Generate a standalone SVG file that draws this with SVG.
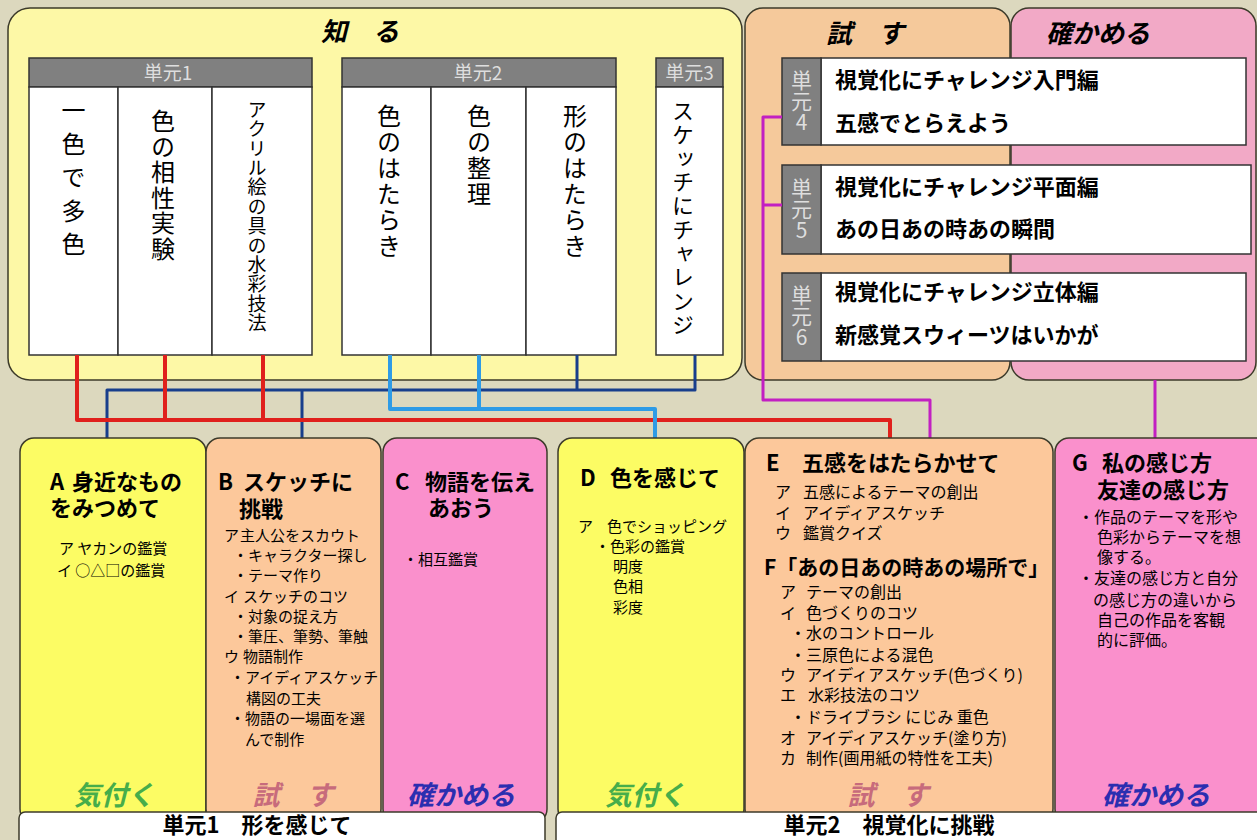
<svg xmlns="http://www.w3.org/2000/svg" width="1257" height="840" viewBox="0 0 1257 840">
<style>
text{font-family:"Noto Sans CJK JP","Noto Sans",sans-serif;fill:#000}
.box{stroke:#3c3a2a;stroke-width:1.5}
.col{fill:#fff;stroke:#333;stroke-width:1.5}
.hdr{fill:#808080;stroke:#333;stroke-width:1.5}
.hdt{fill:#dedede;font-size:19px;text-anchor:middle}
.v{writing-mode:vertical-rl;font-size:24px}
.vl{writing-mode:vertical-rl;text-orientation:upright;font-size:21px;fill:#dedede}
.ttl{font-size:26px;font-weight:bold;font-style:italic;text-anchor:middle}
.row{fill:#fff;stroke:#333;stroke-width:1.5}
.rt{font-size:22px;font-weight:bold}
.h{font-size:22px;font-weight:bold}
.s{font-size:15px}
.m{font-size:16px}
.f{font-size:21px;font-weight:bold}
.st{font-size:27px;font-weight:bold;font-style:italic;text-anchor:middle}
.g1{fill:#46ad4a}.g2{fill:#c76b7c}.g3{fill:#2b2eb0}
.bar{fill:#fff;stroke:#3c3a2a;stroke-width:1.5}
.bt{font-size:22px;font-weight:bold;text-anchor:middle}
.c{fill:none;stroke-linejoin:round}
</style>
<rect width="1257" height="840" fill="#dcd8be"/>

<g id="shiru">
<rect class="box" x="8" y="8" width="734" height="372" rx="22" fill="#fdf8a6"/>
<text class="ttl" x="360" y="41">知　る</text>
</g>
<g id="unit1-header"><rect class="hdr" x="29" y="58" width="283" height="29"/><text class="hdt" x="168" y="80">単元1</text></g>
<g id="unit2-header"><rect class="hdr" x="342" y="58" width="274" height="29"/><text class="hdt" x="478" y="80">単元2</text></g>
<g id="unit3-header"><rect class="hdr" x="656" y="58" width="67" height="29"/><text class="hdt" x="689.5" y="80">単元3</text></g>
<g id="col-isshoku"><rect class="col" x="29" y="87" width="89" height="268"/><text class="v" x="73.5" y="98" style="letter-spacing:9.5px">一色で多色</text></g>
<g id="col-aisho"><rect class="col" x="118" y="87" width="94" height="268"/><text class="v" x="163" y="109" style="letter-spacing:1.5px">色の相性実験</text></g>
<g id="col-acrylic"><rect class="col" x="212" y="87" width="100" height="268"/><text class="v" x="257" y="100" style="font-size:19px;letter-spacing:0.4px">アクリル絵の具の水彩技法</text></g>
<g id="col-ironohataraki"><rect class="col" x="342" y="87" width="89" height="268"/><text class="v" x="389" y="104" style="letter-spacing:2px">色のはたらき</text></g>
<g id="col-seiri"><rect class="col" x="431" y="87" width="95" height="268"/><text class="v" x="479" y="104" style="letter-spacing:2px">色の整理</text></g>
<g id="col-katachi"><rect class="col" x="526" y="87" width="90" height="268"/><text class="v" x="575" y="104" style="letter-spacing:2px">形のはたらき</text></g>
<g id="col-sketch"><rect class="col" x="656" y="87" width="67" height="268"/><text class="v" x="683" y="100" style="font-size:22px;letter-spacing:1.7px">スケッチにチャレンジ</text></g>

<g id="tashikameru-top">
<rect class="box" x="1011" y="8" width="245" height="372" rx="18" fill="#f2a9c6"/>
<text class="ttl" x="1098" y="43">確かめる</text>
</g>
<g id="tamesu-top">
<rect class="box" x="745" y="8" width="265" height="372" rx="18" fill="#f5c99b"/>
<text class="ttl" x="865" y="43">試　す</text>
</g>
<g id="unit4">
<rect class="row" x="821" y="58" width="425" height="87"/><rect class="hdr" x="782" y="58" width="39" height="87"/>
<text class="vl" x="801.5" y="70">単元4</text>
<text class="rt" x="835" y="88">視覚化にチャレンジ入門編</text>
<text class="rt" x="835" y="131">五感でとらえよう</text>
</g>
<g id="unit5">
<rect class="row" x="821" y="165" width="430" height="89"/><rect class="hdr" x="782" y="165" width="39" height="89"/>
<text class="vl" x="801.5" y="178">単元5</text>
<text class="rt" x="835" y="195">視覚化にチャレンジ平面編</text>
<text class="rt" x="835" y="237">あの日あの時あの瞬間</text>
</g>
<g id="unit6">
<rect class="row" x="821" y="273" width="425" height="88"/><rect class="hdr" x="782" y="273" width="39" height="88"/>
<text class="vl" x="801.5" y="285">単元6</text>
<text class="rt" x="835" y="300">視覚化にチャレンジ立体編</text>
<text class="rt" x="835" y="343">新感覚スウィーツはいかが</text>
</g>

<g id="connectors" class="c">
<path d="M107,438V390H695V355M302,438V390M577,355V390" stroke="#183e8c" stroke-width="3"/>
<path d="M77,355V420H890V438M165,355V420M263,355V420" stroke="#e0201c" stroke-width="4"/>
<path d="M390,355V409H655V438M479,355V409" stroke="#2e9be6" stroke-width="4"/>
<path d="M782,117H763V400H930V438M782,205H763" stroke="#c21fc2" stroke-width="3"/>
<path d="M1155,380V438" stroke="#c21fc2" stroke-width="3"/>
</g>

<g id="box-a">
<rect class="box" x="20" y="438" width="186" height="385" rx="14" fill="#fcfc64"/>
<text class="h" x="50" y="490">A<tspan x="72">身近なもの</tspan></text>
<text class="h" x="50" y="516">をみつめて</text>
<text class="s" x="59" y="554">ア ヤカンの鑑賞</text>
<text class="s" x="57" y="576">イ ○△□の鑑賞</text>
<text class="st g1" x="114" y="805">気付く</text>
</g>
<g id="box-b">
<rect class="box" x="206" y="438" width="175" height="385" rx="14" fill="#fcc89b"/>
<text class="h" x="218" y="490">B<tspan x="243">スケッチに</tspan></text>
<text class="h" x="239" y="517">挑戦</text>
<text class="s" x="224" y="541">ア<tspan x="240">主人公をスカウト</tspan></text>
<text class="s" x="233" y="561">・キャラクター探し</text>
<text class="s" x="233" y="581">・テーマ作り</text>
<text class="s" x="224" y="602">イ<tspan x="243">スケッチのコツ</tspan></text>
<text class="s" x="233" y="622">・対象の捉え方</text>
<text class="s" x="233" y="642">・筆圧、筆勢、筆触</text>
<text class="s" x="224" y="662">ウ<tspan x="243">物語制作</tspan></text>
<text class="s" x="230" y="683">・アイディアスケッチ</text>
<text class="s" x="246" y="704">構図の工夫</text>
<text class="s" x="230" y="724">・物語の一場面を選</text>
<text class="s" x="245" y="745">んで制作</text>
<text class="st g2" x="293" y="805">試　す</text>
</g>
<g id="box-c">
<rect class="box" x="383" y="438" width="164" height="385" rx="14" fill="#fa90cc"/>
<text class="h" x="395" y="490">C<tspan x="425">物語を伝え</tspan></text>
<text class="h" x="428" y="516">あおう</text>
<text class="s" x="403" y="565">・相互鑑賞</text>
<text class="st g3" x="461" y="805">確かめる</text>
</g>
<g id="box-d">
<rect class="box" x="558" y="438" width="186" height="385" rx="14" fill="#fcfc64"/>
<text class="h" x="580" y="486">D<tspan x="610">色を感じて</tspan></text>
<text class="s" x="578" y="532">ア<tspan x="607">色でショッピング</tspan></text>
<text class="s" x="595" y="552">・色彩の鑑賞</text>
<text class="s" x="613" y="572">明度</text>
<text class="s" x="613" y="592">色相</text>
<text class="s" x="613" y="613">彩度</text>
<text class="st g1" x="645" y="805">気付く</text>
</g>
<g id="box-e">
<rect class="box" x="745" y="438" width="308" height="385" rx="14" fill="#fcc89b"/>
<text class="h" x="766" y="471">E<tspan x="802">五感をはたらかせて</tspan></text>
<text class="m" x="775" y="498">ア<tspan x="803">五感によるテーマの創出</tspan></text>
<text class="m" x="775" y="519">イ<tspan x="803">アイディアスケッチ</tspan></text>
<text class="m" x="775" y="539">ウ<tspan x="803">鑑賞クイズ</tspan></text>
<text class="f" x="764" y="575">F「あの日あの時あの場所で」</text>
<text class="m" x="780" y="598">ア<tspan x="806">テーマの創出</tspan></text>
<text class="m" x="780" y="619">イ<tspan x="806">色づくりのコツ</tspan></text>
<text class="m" x="790" y="639">・水のコントロール</text>
<text class="m" x="790" y="661">・三原色による混色</text>
<text class="m" x="780" y="681">ウ<tspan x="806">アイディアスケッチ(色づくり)</tspan></text>
<text class="m" x="780" y="701">エ<tspan x="808">水彩技法のコツ</tspan></text>
<text class="m" x="790" y="723">・ドライブラシ にじみ 重色</text>
<text class="m" x="780" y="744">オ<tspan x="806">アイディアスケッチ(塗り方)</tspan></text>
<text class="m" x="780" y="764">カ<tspan x="806">制作(画用紙の特性を工夫)</tspan></text>
<text class="st g2" x="888" y="805">試　す</text>
</g>
<g id="box-g">
<rect class="box" x="1055" y="438" width="220" height="385" rx="14" fill="#fa90cc"/>
<text class="h" x="1072" y="471">G<tspan x="1102">私の感じ方</tspan></text>
<text class="h" x="1097" y="498">友達の感じ方</text>
<text class="m" x="1078" y="523">・作品のテーマを形や</text>
<text class="m" x="1097" y="543">色彩からテーマを想</text>
<text class="m" x="1097" y="563">像する。</text>
<text class="m" x="1078" y="584">・友達の感じ方と自分</text>
<text class="m" x="1093" y="606">の感じ方の違いから</text>
<text class="m" x="1097" y="626">自己の作品を客観</text>
<text class="m" x="1097" y="646">的に評価。</text>
<text class="st g3" x="1156" y="805">確かめる</text>
</g>
<g id="bar-unit1"><rect class="bar" x="19" y="812" width="526" height="40" rx="6"/><text class="bt" x="257" y="833">単元1　形を感じて</text></g>
<g id="bar-unit2"><rect class="bar" x="556" y="812" width="720" height="40" rx="6"/><text class="bt" x="889" y="833">単元2　視覚化に挑戦</text></g>
</svg>
